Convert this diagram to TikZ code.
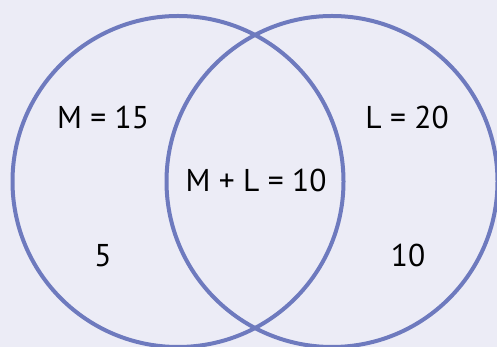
\documentclass[tikz,border=0pt]{standalone}
\usepackage{fontspec}
\setmainfont{PT Sans}
\usepackage{xcolor}
\usetikzlibrary{positioning}
\definecolor{VennBack}{HTML}{ECECF6}
\definecolor{VennRing}{HTML}{6E7ABE}

\begin{document}
\begin{tikzpicture}[
  x=1pt, y=1pt,
  ring/.style={circle, draw=VennRing, line width=4pt, inner sep=0pt, minimum size=331pt},
  count/.style={inner sep=0pt, font=\fontsize{31.5}{36}\selectfont, text=black}
]
\fill[VennBack] (0,0) rectangle (497,347);
\useasboundingbox (0,0) rectangle (497,347);
\clip (0,0) rectangle (497,347);

\node[ring] (mset) at (178,165.5) {};
\node[ring] (lset) at (332,165.5) {};

\node[count] (monly) at (103,229.5) {M = 15};
\node[count] (lonly) at (407,229.5) {L = 20};
\node[count] (both) at (256,167) {M + L = 10};
\node[count] (mrest) at (103,91.5) {5};
\node[count] (lrest) at (408,91.5) {10};
\end{tikzpicture}
\end{document}
